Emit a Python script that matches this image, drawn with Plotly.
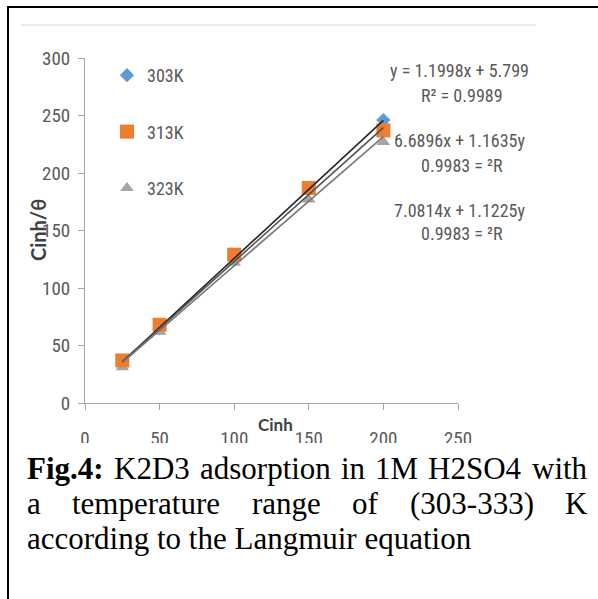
import plotly.graph_objects as go
import numpy as np

# ---------------- data ----------------
cinh = [25, 50, 100, 150, 200]
series_names = ["303K", "313K", "323K"]
y_303 = [35, 65, 126, 186, 246]
y_313 = [37, 68, 129, 187, 237]
y_323 = [31, 62, 122, 177, 227]
slopes = [1.1998, 1.1635, 1.1225]
intercepts = [5.799, 6.6896, 7.0814]
eq_lines = ["y = 1.1998x + 5.799", "R\u00b2 = 0.9989",
            "6.6896x + 1.1635y", "0.9983 = \u00b2R",
            "7.0814x + 1.1225y", "0.9983 = \u00b2R"]
x_ticks = [0, 50, 100, 150, 200, 250]
y_ticks = [0, 50, 100, 150, 200, 250, 300]

# ---------------- layout geometry ----------------
W, H = 598, 599
L, R, T, B = 85, 140, 58, 196
PW, PH = W - L - R, H - T - B


def px(x):
    return (x - L) / PW


def py(y):
    return (H - B - y) / PH


NARROW = "Liberation Sans Narrow, Roboto Condensed, Arial Narrow, sans-serif"
TITLEF = "Lato, Carlito, Calibri, sans-serif"
SERIF = "Liberation Serif, Times New Roman, serif"

colors = ["#5B9BD5", "#ED7D31", "#A5A5A5"]
symbols = ["diamond", "square", "triangle-up"]
sizes = [11, 14, 12]
ys = [y_303, y_313, y_323]
line_colors = ["#262626", "#505050", "#787878"]

fig = go.Figure()
# draw order: blue, gray, orange (orange on top)
for i in [0, 2, 1]:
    fig.add_trace(go.Scatter(
        x=cinh, y=ys[i], mode="markers", name=series_names[i],
        legendgroup=series_names[i], legendrank=i + 1,
        marker=dict(symbol=symbols[i], size=sizes[i], color=colors[i],
                    line=dict(width=0)),
    ))

xfit = np.array([cinh[0], cinh[-1]], dtype=float)
for i in range(3):
    fig.add_trace(go.Scatter(
        x=xfit, y=slopes[i] * xfit + intercepts[i], mode="lines",
        line=dict(color=line_colors[i], width=1.6), showlegend=False,
        hoverinfo="skip",
    ))

axis_common = dict(showgrid=False, zeroline=False, showline=True,
                   linecolor="#a6a6a6", linewidth=1, ticks="outside",
                   ticklen=6, tickcolor="#a6a6a6", automargin=False,
                   tickfont=dict(family=NARROW, size=19, color="#595959"))

fig.update_layout(
    width=W, height=H,
    margin=dict(l=L, r=R, t=T, b=B, pad=0),
    paper_bgcolor="white", plot_bgcolor="white",
    xaxis=dict(range=[0, 250], tickvals=x_ticks, ticklabelstandoff=12,
               **axis_common),
    yaxis=dict(range=[0, 300], tickvals=y_ticks, ticklabelstandoff=4,
               **axis_common),
    legend=dict(x=px(107), y=py(57), xanchor="left", yanchor="top",
                font=dict(family=NARROW, size=18, color="#595959"),
                tracegroupgap=30, bgcolor="rgba(0,0,0,0)",
                itemsizing="trace"),
)

shapes = [
    # clip the bottom of the x tick labels (chart image cut off)
    dict(type="rect", xref="paper", yref="paper", x0=px(12), x1=px(598),
         y0=py(599), y1=py(443), fillcolor="white", line=dict(width=0),
         layer="above"),
    # faint chart border top
    dict(type="line", xref="paper", yref="paper", x0=px(21), x1=px(536),
         y0=py(25), y1=py(25), line=dict(color="#e3e3e3", width=1.5),
         layer="above"),
    # black page frame
    dict(type="line", xref="paper", yref="paper", x0=px(7), x1=px(598),
         y0=py(7), y1=py(7), line=dict(color="black", width=2),
         layer="above"),
    dict(type="line", xref="paper", yref="paper", x0=px(8), x1=px(8),
         y0=py(6), y1=py(599), line=dict(color="black", width=2),
         layer="above"),
]
fig.update_layout(shapes=shapes)

ann = []
# trendline equations
eq_pos = [(459, 70, "center"), (462, 95, "center"),
          (527, 140, "right"), (462, 165, "center"),
          (527, 210, "right"), (462, 233, "center")]
for txt, (x, y, anc) in zip(eq_lines, eq_pos):
    ann.append(dict(text=txt, x=px(x), y=py(y), xref="paper", yref="paper",
                    xanchor=anc, yanchor="middle", showarrow=False,
                    font=dict(family=NARROW, size=18, color="#595959")))

# axis titles
ann.append(dict(text="<b>Cinh</b>", x=px(275), y=py(424), xref="paper",
                yref="paper", xanchor="center", yanchor="middle",
                showarrow=False,
                font=dict(family=TITLEF, size=17, color="#404040")))
ann.append(dict(text="<b>Cinh/\u03b8</b>", x=px(38), y=py(230), xref="paper",
                yref="paper", xanchor="center", yanchor="middle",
                textangle=-90, showarrow=False,
                font=dict(family=TITLEF, size=20, color="#404040")))

# caption (justified)
cap_font = dict(family=SERIF, size=31, color="black")
line1 = [("<b>Fig.4:</b>", 25), ("K2D3", 112), ("adsorption", 198),
         ("in", 339), ("1M", 373), ("H2SO4", 426), ("with", 530)]
line2 = [("a", 25), ("temperature", 70), ("range", 250), ("of", 350),
         ("(303-333)", 408), ("K", 563)]
line3 = [("according to the Langmuir equation", 25)]
for words, yc in [(line1, 468), (line2, 503), (line3, 538)]:
    for w, x in words:
        ann.append(dict(text=w, x=px(x), y=py(yc), xref="paper",
                        yref="paper", xanchor="left", yanchor="middle",
                        showarrow=False, font=cap_font))

fig.update_layout(annotations=ann)

fig.write_html("out.html")
